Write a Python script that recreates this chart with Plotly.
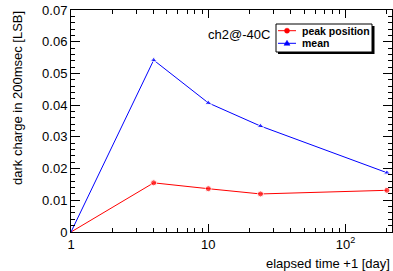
import plotly.graph_objects as go

elapsed_days_plus1 = [1, 4, 10, 24, 200]
peak_position = [0.0, 0.0155, 0.01365, 0.0120, 0.01315]
mean_charge = [0.0, 0.0542, 0.0407, 0.0334, 0.0187]
series_names = ["peak position", "mean"]
series_colors = ["#ff0000", "#0000ff"]
y_tick_vals = [0, 0.01, 0.02, 0.03, 0.04, 0.05, 0.06, 0.07]
y_tick_text = ["0", "0.01", "0.02", "0.03", "0.04", "0.05", "0.06", "0.07"]
x_tick_vals = [1, 10, 100]
x_tick_text = ["1", "10", "10<sup>2</sup>"]
x_minor_vals = [2, 3, 4, 5, 6, 7, 8, 9, 20, 30, 40, 50, 60, 70, 80, 90, 200]

FONT = "Liberation Sans, Arial, sans-serif"
W, H = 393, 271
ML, MR, MT, MB = 71, 1, 10, 39
PW, PH = W - ML - MR, H - MT - MB


def px(x):
    return (x - ML) / PW


def py(y):
    return (H - MB - y) / PH


# markers on the frame corner are hidden (as in the reference)
def marker_sizes(xs, ys, s):
    return [0 if (x == 1 and y == 0) else s for x, y in zip(xs, ys)]


fig = go.Figure()
fig.add_trace(go.Scatter(
    x=elapsed_days_plus1, y=peak_position, name=series_names[0],
    mode="lines+markers", line=dict(color=series_colors[0], width=1),
    marker=dict(symbol="circle", color=series_colors[0],
                size=marker_sizes(elapsed_days_plus1, peak_position, 6)),
    showlegend=False,
))
fig.add_trace(go.Scatter(
    x=elapsed_days_plus1, y=mean_charge, name=series_names[1],
    mode="lines+markers", line=dict(color=series_colors[1], width=1),
    marker=dict(symbol="triangle-up", color=series_colors[1],
                size=marker_sizes(elapsed_days_plus1, mean_charge, 6)),
    showlegend=False,
))

axis_common = dict(
    showline=True, linecolor="black", linewidth=1, mirror="allticks",
    ticks="inside", tickcolor="black", tickwidth=1,
    showgrid=False, zeroline=False,
    tickfont=dict(family=FONT, size=13, color="black"),
)

fig.update_xaxes(
    type="log", range=[0, 2.338],
    tickmode="array", tickvals=x_tick_vals, ticktext=x_tick_text,
    ticklen=8,
    minor=dict(tickmode="array", tickvals=x_minor_vals, ticks="inside",
               ticklen=4, tickcolor="black", tickwidth=1, showgrid=False),
    **axis_common,
)
fig.update_yaxes(
    range=[0, 0.07],
    tickmode="array", tickvals=y_tick_vals, ticktext=y_tick_text,
    ticklen=9,
    minor=dict(dtick=0.002, tick0=0, ticks="inside", ticklen=4,
               tickcolor="black", tickwidth=1, showgrid=False),
    **axis_common,
)

# manual legend: shadow, box, entries
shapes = [
    dict(type="rect", xref="paper", yref="paper",
         x0=px(278), x1=px(374.5), y0=py(54), y1=py(26),
         fillcolor="black", line=dict(width=0)),
    dict(type="rect", xref="paper", yref="paper",
         x0=px(276), x1=px(372), y0=py(52), y1=py(24),
         fillcolor="white", line=dict(color="black", width=1)),
]
annotations = []
row_y = [30.7, 43.3]
for i, (name, col) in enumerate(zip(series_names, series_colors)):
    yy = row_y[i]
    shapes.append(dict(type="line", xref="paper", yref="paper",
                       x0=px(278), x1=px(296), y0=py(yy), y1=py(yy),
                       line=dict(color=col, width=1)))
    if i == 0:
        shapes.append(dict(type="circle", xref="paper", yref="paper",
                           x0=px(284.5), x1=px(289.5), y0=py(yy + 2.5), y1=py(yy - 2.5),
                           fillcolor=col, line=dict(color=col, width=0.5)))
    else:
        path = "M {} {} L {} {} L {} {} Z".format(
            px(284), py(yy + 2), px(290), py(yy + 2), px(287), py(yy - 3))
        shapes.append(dict(type="path", xref="paper", yref="paper", path=path,
                           fillcolor=col, line=dict(color=col, width=0.5)))
    annotations.append(dict(
        text="<b>" + name + "</b>", xref="paper", yref="paper",
        x=px(299.5), y=py(yy), xanchor="left", yanchor="middle",
        showarrow=False, font=dict(family=FONT, size=10.5, color="black")))

annotations += [
    dict(text="ch2@-40C", xref="paper", yref="paper", x=px(206), y=py(34),
         xanchor="left", yanchor="middle", showarrow=False,
         font=dict(family=FONT, size=13, color="black")),
    dict(text="elapsed time +1 [day]", xref="paper", yref="paper",
         x=px(392), y=py(263), xanchor="right", yanchor="middle",
         showarrow=False, font=dict(family=FONT, size=13, color="black")),
    dict(text="dark charge in 200msec [LSB]", xref="paper", yref="paper",
         x=px(17), y=py(9), xanchor="center", yanchor="top", textangle=-90,
         showarrow=False, font=dict(family=FONT, size=13, color="black")),
]

fig.update_layout(
    width=W, height=H,
    margin=dict(l=ML, r=MR, t=MT, b=MB),
    paper_bgcolor="white", plot_bgcolor="white",
    showlegend=False,
    shapes=shapes,
    annotations=annotations,
)

fig.write_html(
    "out.html",
    config={"displayModeBar": False},
    post_script="document.body.style.margin='0';document.body.style.overflow='hidden';",
)
